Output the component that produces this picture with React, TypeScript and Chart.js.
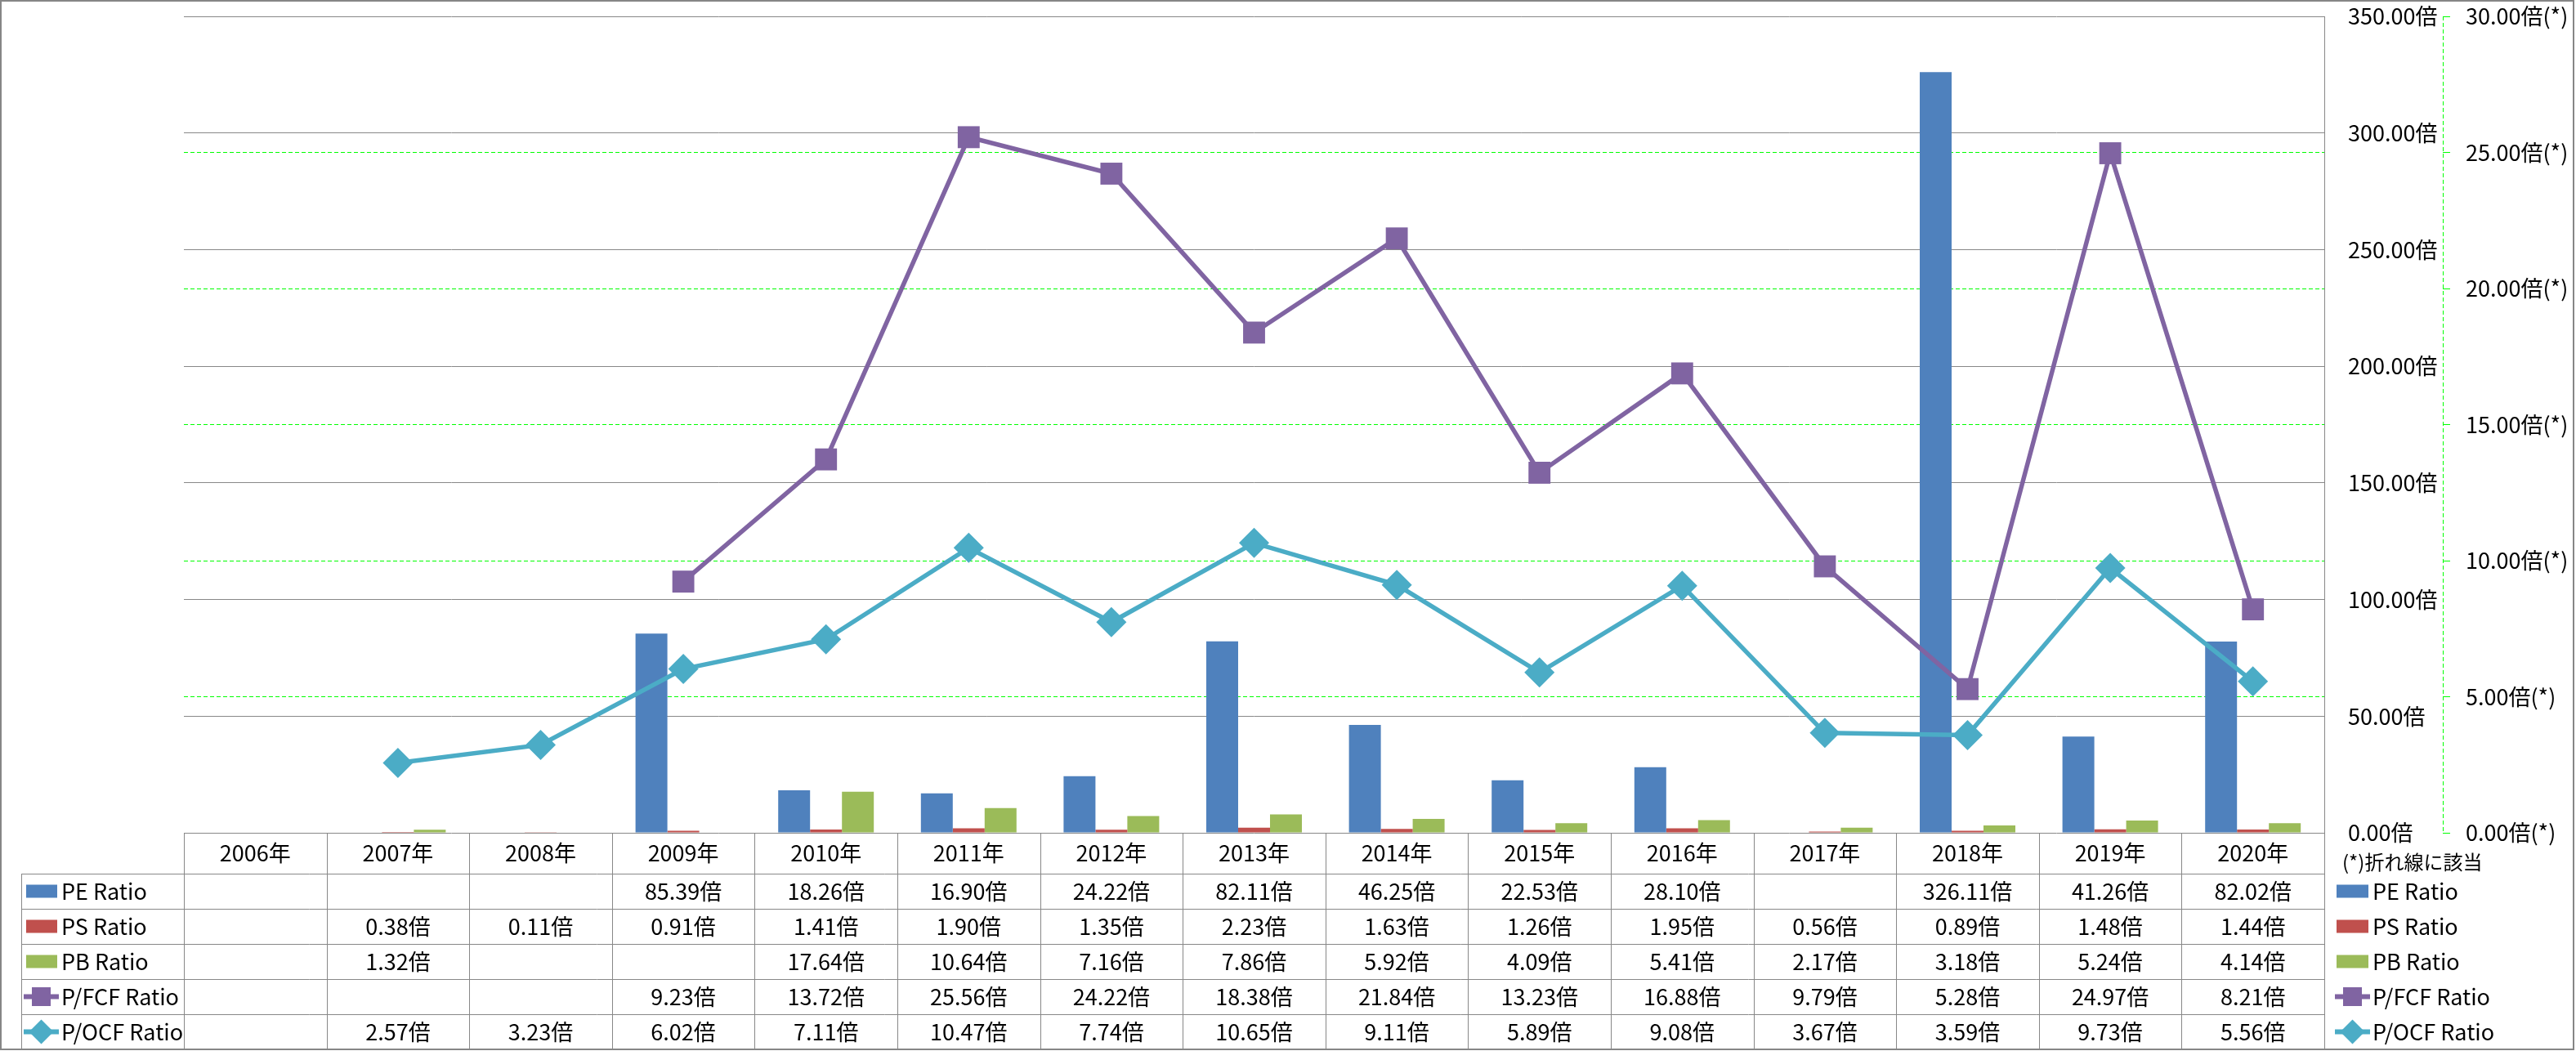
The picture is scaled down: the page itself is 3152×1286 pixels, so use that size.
import React, { useEffect, useRef } from "react";
import { Chart, registerables } from "chart.js";

Chart.register(...registerables);

const years = ["2006年", "2007年", "2008年", "2009年", "2010年", "2011年", "2012年", "2013年", "2014年", "2015年", "2016年", "2017年", "2018年", "2019年", "2020年"];
const peRatio = [null, null, null, 85.39, 18.26, 16.9, 24.22, 82.11, 46.25, 22.53, 28.1, null, 326.11, 41.26, 82.02];
const psRatio = [null, 0.38, 0.11, 0.91, 1.41, 1.9, 1.35, 2.23, 1.63, 1.26, 1.95, 0.56, 0.89, 1.48, 1.44];
const pbRatio = [null, 1.32, null, null, 17.64, 10.64, 7.16, 7.86, 5.92, 4.09, 5.41, 2.17, 3.18, 5.24, 4.14];
const pfcfRatio = [null, null, null, 9.23, 13.72, 25.56, 24.22, 18.38, 21.84, 13.23, 16.88, 9.79, 5.28, 24.97, 8.21];
const pocfRatio = [null, 2.57, 3.23, 6.02, 7.11, 10.47, 7.74, 10.65, 9.11, 5.89, 9.08, 3.67, 3.59, 9.73, 5.56];
const seriesNames = ["PE Ratio", "PS Ratio", "PB Ratio", "P/FCF Ratio", "P/OCF Ratio"];
const unitSuffix = "倍";
const lineSuffix = "倍(*)";
const lineNote = "(*)折れ線に該当";
const primaryMax = 350;
const primaryStep = 50;
const secondaryMax = 30;
const secondaryStep = 5;

const FONT = "'Noto Sans CJK JP', 'Noto Sans', sans-serif";
const GRID_GREY = "#888888";
const GREEN = "#00FF00";

const fmt = (v: number | null) => (v == null ? "" : v.toFixed(2) + unitSuffix);

function drawKey(ctx: CanvasRenderingContext2D, ds: any, x0: number, x1: number, cy: number) {
  ctx.save();
  if (ds.type === "line") {
    ctx.strokeStyle = ds.borderColor;
    ctx.lineWidth = 6;
    ctx.beginPath();
    ctx.moveTo(x0, cy);
    ctx.lineTo(x1, cy);
    ctx.stroke();
    const cx = (x0 + x1) / 2;
    ctx.fillStyle = ds.backgroundColor;
    if (ds.pointStyle === "rect") {
      ctx.fillRect(cx - 11.5, cy - 11.5, 23, 23);
    } else {
      ctx.beginPath();
      ctx.moveTo(cx - 15, cy);
      ctx.lineTo(cx, cy - 15);
      ctx.lineTo(cx + 15, cy);
      ctx.lineTo(cx, cy + 15);
      ctx.closePath();
      ctx.fill();
    }
  } else {
    ctx.fillStyle = ds.backgroundColor;
    ctx.fillRect(x0, cy - 8, x1 - x0, 16);
  }
  ctx.restore();
}

const tablePlugin = {
  id: "dataTable",
  afterDraw(chart: any) {
    const ctx: CanvasRenderingContext2D = chart.ctx;
    const xs = chart.scales.x;
    const ys = chart.scales.y;
    const y1s = chart.scales.y1;
    const area = chart.chartArea;
    const labels: string[] = chart.data.labels;
    const n = labels.length;
    const step = xs.getPixelForValue(1) - xs.getPixelForValue(0);
    const top = Math.round(ys.getPixelForValue(0));
    const headerH = 50;
    const bottom = chart.height - 2;
    const rowCount = chart.data.datasets.length;
    const rowH = (bottom - top - headerH) / rowCount;
    const labelLeft = 26;

    ctx.save();
    // secondary axis dashed line
    ctx.strokeStyle = GREEN;
    ctx.lineWidth = 1;
    ctx.setLineDash([5, 3]);
    ctx.beginPath();
    ctx.moveTo(Math.round(y1s.left) + 0.5, area.top);
    ctx.lineTo(Math.round(y1s.left) + 0.5, area.bottom);
    ctx.stroke();
    ctx.setLineDash([]);

    // table lines
    ctx.strokeStyle = GRID_GREY;
    ctx.lineWidth = 1;
    ctx.beginPath();
    for (let r = 0; r <= rowCount; r++) {
      const yy = Math.round(top + headerH + r * rowH) + 0.5;
      ctx.moveTo(labelLeft, yy);
      ctx.lineTo(area.right, yy);
    }
    ctx.moveTo(Math.round(area.left) + 0.5, top);
    ctx.lineTo(Math.round(area.left) + 0.5, bottom);
    for (let i = 0; i < n; i++) {
      const bx = Math.round(xs.getPixelForValue(i) + step / 2) + 0.5;
      ctx.moveTo(bx, top);
      ctx.lineTo(bx, bottom);
    }
    ctx.moveTo(labelLeft + 0.5, top + headerH);
    ctx.lineTo(labelLeft + 0.5, bottom);
    ctx.stroke();

    // header text
    ctx.fillStyle = "#000";
    ctx.font = `27px ${FONT}`;
    ctx.textAlign = "center";
    ctx.textBaseline = "middle";
    for (let i = 0; i < n; i++) {
      ctx.fillText(labels[i], xs.getPixelForValue(i), top + headerH / 2);
    }
    // rows
    chart.data.datasets.forEach((ds: any, r: number) => {
      const cy = top + headerH + r * rowH + rowH / 2;
      for (let i = 0; i < n; i++) {
        const txt = fmt(ds.data[i]);
        if (txt) {
          ctx.fillStyle = "#000";
          ctx.textAlign = "center";
          ctx.fillText(txt, xs.getPixelForValue(i), cy);
        }
      }
      drawKey(ctx, ds, ds.type === "line" ? 29 : 32, ds.type === "line" ? 72 : 70, cy);
      ctx.fillStyle = "#000";
      ctx.textAlign = "left";
      ctx.fillText(ds.label, 75, cy);
      // right legend
      drawKey(ctx, ds, ds.type === "line" ? 2857 : 2859, ds.type === "line" ? 2900 : 2898, cy);
      ctx.fillStyle = "#000";
      ctx.textAlign = "left";
      ctx.fillText(ds.label, 2903, cy);
    });
    ctx.font = `24px ${FONT}`;
    ctx.textAlign = "left";
    ctx.fillText(lineNote, 2866, top + 36);

    // outer border
    ctx.strokeStyle = "#868686";
    ctx.lineWidth = 2;
    ctx.strokeRect(1, 1, chart.width - 4, chart.height - 3);
    ctx.restore();
  },
};

export default function App() {
  const canvasRef = useRef<HTMLCanvasElement | null>(null);

  useEffect(() => {
    document.body.style.margin = "0";
    const canvas = canvasRef.current;
    if (!canvas) return;
    const chart = new Chart(canvas, {
      type: "bar",
      data: {
        labels: years,
        datasets: [
          { type: "bar", label: seriesNames[0], data: peRatio, backgroundColor: "#4F81BD", yAxisID: "y", order: 2, categoryPercentage: 0.67, barPercentage: 1 },
          { type: "bar", label: seriesNames[1], data: psRatio, backgroundColor: "#C0504D", yAxisID: "y", order: 2, categoryPercentage: 0.67, barPercentage: 1 },
          { type: "bar", label: seriesNames[2], data: pbRatio, backgroundColor: "#9BBB59", yAxisID: "y", order: 2, categoryPercentage: 0.67, barPercentage: 1 },
          {
            type: "line", label: seriesNames[3], data: pfcfRatio, borderColor: "#8064A2", backgroundColor: "#8064A2",
            yAxisID: "y1", order: 1, borderWidth: 5.5, pointStyle: "rect", pointRadius: 19, pointBorderWidth: 0, tension: 0,
          },
          {
            type: "line", label: seriesNames[4], data: pocfRatio, borderColor: "#4BACC6", backgroundColor: "#4BACC6",
            yAxisID: "y1", order: 0, borderWidth: 5.5, pointStyle: "rectRot", pointRadius: 18.5, pointBorderWidth: 0, tension: 0,
          },
        ] as any,
      },
      options: {
        responsive: false,
        animation: false,
        devicePixelRatio: 1,
        layout: { padding: { left: 225, top: 20, right: 0, bottom: 267 } },
        plugins: { legend: { display: false }, tooltip: { enabled: false } },
        scales: {
          x: { display: false, offset: true },
          y: {
            position: "right",
            weight: 0,
            min: 0,
            max: primaryMax,
            ticks: {
              stepSize: primaryStep,
              padding: 29,
              color: "#000",
              font: { family: FONT, size: 27 },
              callback: (v: any) => Number(v).toFixed(2) + unitSuffix,
            },
            grid: { color: GRID_GREY, lineWidth: 1, drawTicks: false },
            border: { display: true, color: GRID_GREY, width: 1 },
            afterFit: (s: any) => { s.width = 145; s.paddingTop = 0; s.paddingBottom = 0; },
          },
          y1: {
            position: "right",
            weight: 1,
            min: 0,
            max: secondaryMax,
            ticks: {
              stepSize: secondaryStep,
              padding: 19,
              color: "#000",
              font: { family: FONT, size: 27 },
              callback: (v: any) => Number(v).toFixed(2) + lineSuffix,
            },
            grid: {
              color: (c: any) => (c.tick && (c.tick.value === 0 || c.tick.value === secondaryMax) ? "rgba(0,0,0,0)" : GREEN),
              tickColor: GREEN,
              lineWidth: 1,
              drawTicks: true,
              tickLength: 9,
            },
            border: { display: false, dash: [5, 3] },
            afterFit: (s: any) => { s.width = 163; s.paddingTop = 0; s.paddingBottom = 0; },
          } as any,
        },
      } as any,
      plugins: [tablePlugin],
    });
    return () => chart.destroy();
  }, []);

  return <canvas ref={canvasRef} width={3152} height={1286} style={{ display: "block", width: 3152, height: 1286 }} />;
}
